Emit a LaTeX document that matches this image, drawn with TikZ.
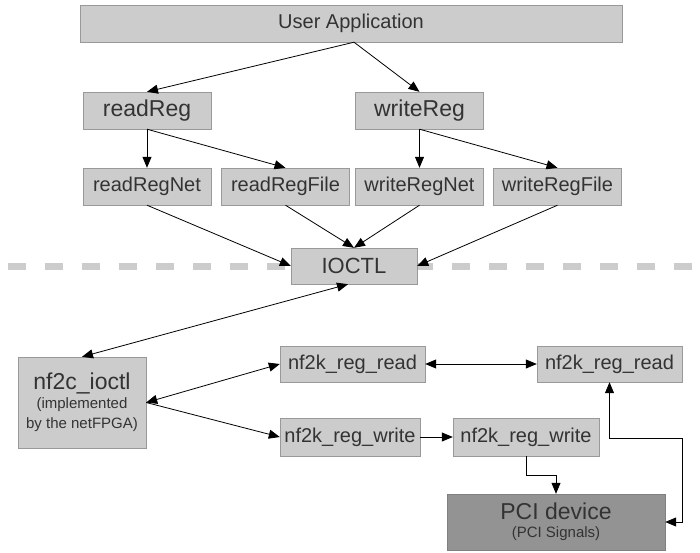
\documentclass[tikz,border=0pt]{standalone}
\usepackage{fontspec}
\setmainfont{Liberation Sans}
\usepackage{xcolor}
\usetikzlibrary{arrows.meta}
\definecolor{boxfill}{HTML}{CCCCCC}
\definecolor{boxline}{HTML}{999999}
\definecolor{devfill}{HTML}{939393}
\definecolor{devline}{HTML}{808080}
\definecolor{ink}{HTML}{333333}
\definecolor{divider}{HTML}{CCCCCC}
\newcommand{\subfont}{\fontsize{15}{17}\selectfont}

\begin{document}
\begin{tikzpicture}[x=1pt, y=-1pt,
  box/.style={rectangle, draw=boxline, fill=boxfill, text=ink, align=center,
    inner sep=0pt, minimum height=37pt, font=\fontsize{20}{22}\selectfont},
  device/.style={box, draw=devline, fill=devfill},
  arr/.style={-{Triangle[length=11pt, width=9pt]}, draw=black, line width=0.8pt},
  dbl/.style={{Triangle[length=11pt, width=9pt]}-{Triangle[length=11pt, width=9pt]},
    draw=black, line width=0.8pt}
]
\useasboundingbox (0,0) rectangle (700,553);
\draw[divider, line width=7pt, dash pattern=on 18pt off 19pt] (8,266) -- (700,266);

\node[box, minimum width=542pt] (app) at (351,23.5) {User Application};
\node[box, minimum width=128pt, font=\fontsize{23}{25}\selectfont] (readReg) at (147,110.5) {readReg};
\node[box, minimum width=128pt, font=\fontsize{23}{25}\selectfont] (writeReg) at (419.5,110.5) {writeReg};
\node[box, minimum width=128pt] (readRegNet) at (147,186.5) {readRegNet};
\node[box, minimum width=128pt] (readRegFile) at (285.5,186.5) {readRegFile};
\node[box, minimum width=128pt] (writeRegNet) at (419.5,186.5) {writeRegNet};
\node[box, minimum width=128pt] (writeRegFile) at (557.5,186.5) {writeRegFile};
\node[box, minimum width=126pt, minimum height=36pt, font=\fontsize{22}{24}\selectfont]
  (ioctl) at (354,266) {IOCTL};
\node[box, minimum width=128pt, minimum height=91pt, font=\fontsize{23}{25}\selectfont]
  (nfc) at (82,402.5) {nf2c\_ioctl\\[-6pt]{\subfont (implemented}\\[-5pt]{\subfont by the netFPGA)}};
\node[box, minimum width=145pt, minimum height=36pt] (kRead) at (352.5,364) {nf2k\_reg\_read};
\node[box, minimum width=145pt, minimum height=36pt] (dRead) at (609.5,364) {nf2k\_reg\_read};
\node[box, minimum width=140pt, minimum height=38pt] (kWrite) at (350,437) {nf2k\_reg\_write};
\node[box, minimum width=146pt, minimum height=38pt] (dWrite) at (526,437) {nf2k\_reg\_write};
\node[device, minimum width=218pt, minimum height=56pt, font=\fontsize{23}{25}\selectfont]
  (pci) at (556,522) {PCI device\\[-7pt]{\subfont (PCI Signals)}};
\coordinate (loop) at (682,438);

\draw[arr] ([xshift=3pt]app.south) -- (readReg.north);
\draw[arr] ([xshift=3pt]app.south) -- (writeReg.north);
\draw[arr] (readReg.south) -- (readRegNet.north);
\draw[arr] (readReg.south) -- (readRegFile.north);
\draw[arr] (writeReg.south) -- (writeRegNet.north);
\draw[arr] (writeReg.south) -- (writeRegFile.north);
\draw[arr] (readRegNet.south) -- (ioctl.west);
\draw[arr] (readRegFile.south) -- (ioctl.north);
\draw[arr] (writeRegNet.south) -- (ioctl.north);
\draw[arr] (writeRegFile.south) -- (ioctl.east);
\draw[dbl] ([xshift=-6pt]ioctl.south) -- (nfc.north);
\draw[dbl] (nfc.east) -- (kRead.west);
\draw[arr] (nfc.east) -- (kWrite.west);
\draw[dbl] (kRead.east) -- (dRead.west);
\draw[arr] (kWrite.east) -- (dWrite.west);
\draw[arr] (dWrite.south) -- ++(0,19) -| (pci.north);
\draw[dbl] (dRead.south) |- (loop) |- (pci.east);
\end{tikzpicture}
\end{document}
